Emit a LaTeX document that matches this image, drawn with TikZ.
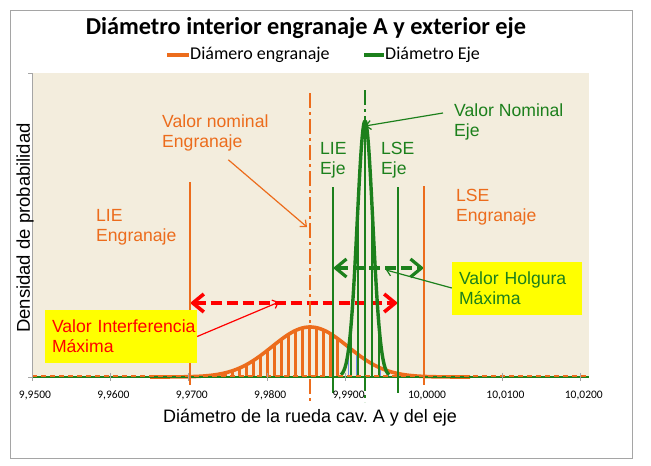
\documentclass[tikz,border=0pt]{standalone}
\usepackage{fontspec}
\setmainfont{Liberation Sans}
\newfontfamily\calib{Carlito}
\usetikzlibrary{arrows.meta,positioning}

\definecolor{gearorange}{RGB}{236,108,28}
\definecolor{shaftgreen}{RGB}{28,128,28}
\definecolor{plotbeige}{RGB}{243,237,221}
\definecolor{noteyellow}{RGB}{255,255,0}
\definecolor{hatchblue}{RGB}{110,140,230}
\definecolor{framegray}{RGB}{165,165,165}

\tikzset{
  limitline/.style={line width=1.6pt},
  nomline/.style={line width=2.6pt, dash pattern=on 15pt off 4pt on 3pt off 4pt},
  spanarrow/.style={line width=3.6pt, dash pattern=on 11pt off 5pt,
    {Straight Barb[length=11pt,width=18pt]}-{Straight Barb[length=11pt,width=18pt]}},
  leader/.style={line width=1.2pt, -{Straight Barb[length=5pt,width=9pt]}},
  annot/.style={font=\fontsize{17.6}{20}\selectfont, align=left, anchor=north west, inner sep=0pt},
  notebox/.style={fill=noteyellow, font=\fontsize{17.6}{20}\selectfont, align=left,
    inner xsep=7pt, minimum height=53pt},
  ticklbl/.style={font=\calib\fontsize{11.5}{13}\selectfont},
  declare function={gearpdf(\t)=377-50*exp(-0.5*((\t-310)/38)*((\t-310)/38));
    shaftpdf(\t)=377-256*exp(-0.5*((\t-365)/7.8)*((\t-365)/7.8));}
}

\begin{document}
\begin{tikzpicture}[x=1pt,y=-1pt]
    \useasboundingbox (0,0) rectangle (651,466);
    \fill[white] (0,0) rectangle (651,466);
    \draw[framegray, line width=1pt] (10,10) rectangle (632,458);

    % Title and legend
    \node[font=\calib\bfseries\fontsize{24.3}{28}\selectfont] (title) at (306,28)
        {Diámetro interior engranaje A y exterior eje};
    \node[anchor=west, inner sep=1pt, font=\calib\fontsize{18}{20}\selectfont] (leggear) at (189,55) {Diámero engranaje};
    \node[anchor=west, inner sep=1pt, font=\calib\fontsize{18}{20}\selectfont] (legshaft) at (384,55) {Diámetro Eje};
    \draw[gearorange, line width=4pt] ([xshift=-22pt]leggear.west) -- (leggear.west);
    \draw[shaftgreen, line width=4pt] ([xshift=-20pt]legshaft.west) -- (legshaft.west);

    % Plot area
    \fill[plotbeige] (32,73) rectangle (589,377);
    \draw[framegray, line width=0.8pt] (32,73) -- (32,377);
    \draw[framegray, line width=0.8pt] (28,73) -- (32,73) (28,377) -- (32,377);

    % Hatching under the curves
    \foreach \bx in {197,204,...,341}
        \draw[gearorange, line width=3pt] (\bx,377) -- (\bx,{gearpdf(\bx)});
    \foreach \bx in {348,356,...,388}
        \draw[hatchblue, line width=0.6pt] (\bx,377) -- (\bx,{gearpdf(\bx)});

    % Gear curve
    \draw[gearorange, line width=3.6pt, line join=round]
        plot[domain=150:470, samples=160] (\x,{gearpdf(\x)});

    % Interference arrow
    \coordinate (interL) at (190,303);
    \coordinate (interR) at (398,303);
    \draw[spanarrow, red] (interL) -- (interR);

    % Shaft curve
    \foreach \bx in {351,358,365,372,379}
        \draw[shaftgreen, line width=2.6pt] (\bx,377) -- (\bx,{shaftpdf(\bx)});
    \draw[shaftgreen, line width=3.4pt, line join=round]
        plot[domain=341:389, samples=80] (\x,{shaftpdf(\x)});

    % Clearance arrow
    \coordinate (holgL) at (333,268);
    \coordinate (holgR) at (424,268);
    \draw[spanarrow, shaftgreen, line width=3.2pt] (holgL) -- (holgR);

    % Baseline and x axis
    \draw[shaftgreen, line width=2.4pt] (32,377) -- (589,377);
    \draw[gearorange, line width=1.6pt, dash pattern=on 5pt off 4pt] (32,376) -- (589,376);
    \foreach \k in {0,...,7}
        \draw[framegray, line width=0.8pt] ({32+78.4*\k},373) -- ({32+78.4*\k},381);

    % Limits
    \draw[limitline, gearorange] (190,182) -- (190,385);
    \draw[limitline, gearorange] (424,186) -- (424,385);
    \draw[limitline, shaftgreen] (333,187) -- (333,393);
    \draw[limitline, shaftgreen] (398,187) -- (398,393);

    % Nominal values
    \draw[nomline, gearorange] (310,93) -- (310,402);
    \draw[nomline, shaftgreen] (365,90) -- (365,402);

    % Tick labels
    \foreach \lbl [count=\k from 0] in {{9,9500},{9,9600},{9,9700},{9,9800},{9,9900},{10,0000},{10,0100},{10,0200}}
        \node[ticklbl] (tick\k) at ({35+78.4*\k},395) {\lbl};

    % Axis titles
    \node[rotate=90, font=\fontsize{18.5}{20}\selectfont] (ylbl) at (25,228) {Densidad de probabilidad};
    \node[font=\fontsize{18}{20}\selectfont] (xlbl) at (310,418) {Diámetro de la rueda cav.\ A y del eje};

    % Labels
    \node[annot, text=gearorange] (lielbl) at (96,209) {LIE\\Engranaje};
    \node[annot, text=gearorange] (nomlbl) at (162,115) {Valor nominal\\Engranaje};
    \node[annot, text=shaftgreen] (lieeje) at (320,142) {LIE\\Eje};
    \node[annot, text=shaftgreen] (lseeje) at (381,142) {LSE\\Eje};
    \node[annot, text=shaftgreen] (nomeje) at (454,104) {Valor Nominal\\Eje};
    \node[annot, text=gearorange] (lselbl) at (456,189) {LSE\\Engranaje};

    \node[notebox, text=red, text width=138pt] (interbox) at (121,336.5)
        {\makebox[\linewidth][l]{Valor Interferencia}\\Máxima};
    \node[notebox, text=shaftgreen, text width=116pt] (holgbox) at (517,288) {Valor Holgura\\Máxima};

    % Leaders
    \coordinate (nomtip) at (307,227);
    \coordinate (ejetip) at (365,126);
    \coordinate (intertip) at (279,302);
    \coordinate (holgtip) at (386,270);
    \draw[leader, gearorange] ([xshift=13pt,yshift=-8pt]nomlbl.south) -- (nomtip);
    \draw[leader, shaftgreen] ([xshift=-11pt,yshift=-9pt]nomeje.north west) -- (ejetip);
    \draw[leader, red] (interbox.east) -- (intertip);
    \draw[leader, shaftgreen] (holgbox.west) -- (holgtip);
\end{tikzpicture}
\end{document}
